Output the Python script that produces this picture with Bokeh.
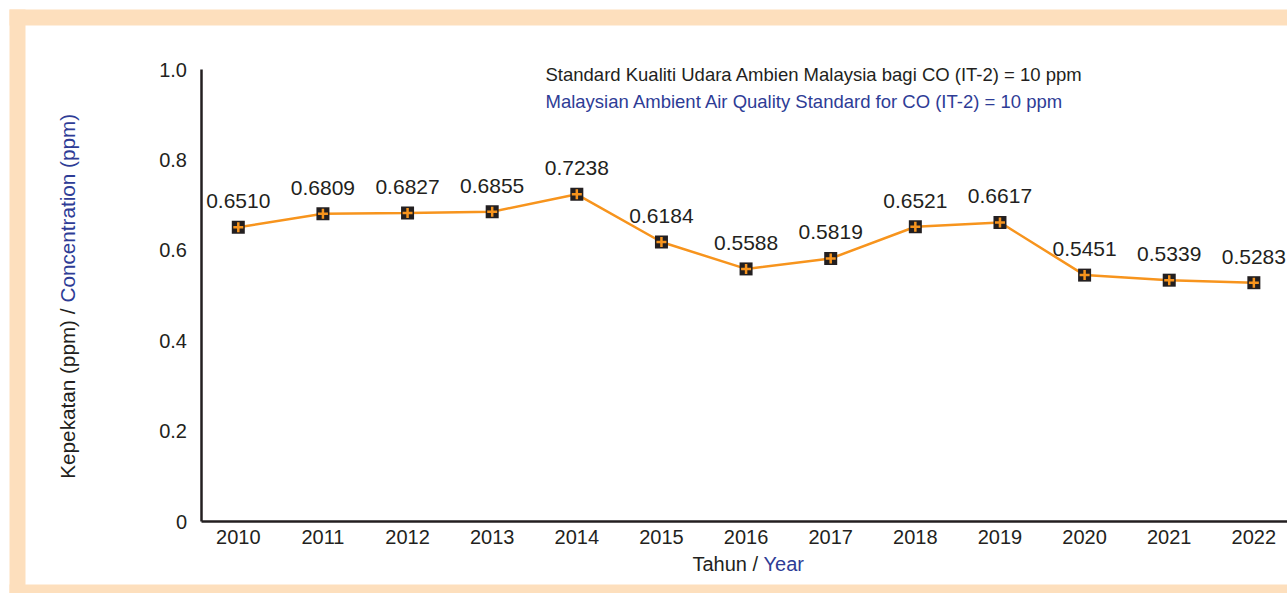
import math
from bokeh.plotting import figure
from bokeh.models import (ColumnDataSource, FixedTicker, Label, LabelSet, BoxAnnotation,
                          Range1d, LinearAxis)
from bokeh.core.properties import value
from bokeh.embed import file_html
from bokeh.resources import INLINE

# ---------------- data ----------------
years = [2010, 2011, 2012, 2013, 2014, 2015, 2016, 2017, 2018, 2019, 2020, 2021, 2022]
conc = [0.6510, 0.6809, 0.6827, 0.6855, 0.7238, 0.6184, 0.5588, 0.5819, 0.6521, 0.6617, 0.5451, 0.5339, 0.5283]
conc_labels = ["0.6510", "0.6809", "0.6827", "0.6855", "0.7238", "0.6184", "0.5588",
               "0.5819", "0.6521", "0.6617", "0.5451", "0.5339", "0.5283"]
y_ticks = [0, 0.2, 0.4, 0.6, 0.8, 1.0]
y_tick_labels = ["0", "0.2", "0.4", "0.6", "0.8", "1.0"]

title_ms = "Standard Kualiti Udara Ambien Malaysia bagi CO (IT-2) = 10 ppm"
title_en = "Malaysian Ambient Air Quality Standard for CO (IT-2) = 10 ppm"
xlabel_ms = "Tahun /"
xlabel_en = "Year"
ylabel_ms = "Kepekatan (ppm) /"
ylabel_en = "Concentration (ppm)"

# ---------------- style ----------------
FONT = "Liberation Sans"
DARK = "#231F20"
BLUE = "#2E3C96"
ORANGE = "#F7941D"
PEACH = "#FDDFBD"

W, H = 1287, 593
# pixel <-> data mapping (the frame fills the whole canvas)
PX_2010, PX_PER_YEAR = 237.8, 84.63
PY_ZERO, PY_PER_UNIT = 521.0, 452.0


def dx(px):
    return 2010 + (px - PX_2010) / PX_PER_YEAR


def dy(py):
    return (PY_ZERO - py) / PY_PER_UNIT


X0, X1 = dx(0), dx(W)
Y0, Y1 = dy(H), dy(0)

p = figure(width=W, height=H, x_range=Range1d(X0, X1), y_range=Range1d(Y0, Y1),
           output_backend="svg", toolbar_location=None,
           x_axis_location=None, y_axis_location=None,
           min_border=0, min_border_left=0, min_border_right=0,
           min_border_top=0, min_border_bottom=0,
           background_fill_color="white", border_fill_color="white",
           outline_line_color=None)
p.grid.visible = False

# peach frame (drawn first, under everything)
far = 5000
for box in (dict(left=dx(9), right=dx(25), bottom=dy(far), top=dy(9)),
            dict(left=dx(9), right=dx(far), bottom=dy(25), top=dy(9)),
            dict(left=dx(9), right=dx(far), bottom=dy(far), top=dy(584))):
    p.add_layout(BoxAnnotation(**box, fill_color=PEACH, fill_alpha=1.0, line_color=None,
                               level="underlay"))

# axes placed at fixed positions inside the frame
xaxis = LinearAxis(ticker=FixedTicker(ticks=years), fixed_location=0,
                   bounds=(dx(200.5), X1))
yaxis = LinearAxis(ticker=FixedTicker(ticks=y_ticks), fixed_location=dx(200.5),
                   bounds=(0, 1.0))
yaxis.major_label_overrides = {t: l for t, l in zip(y_ticks, y_tick_labels)}
for ax in (xaxis, yaxis):
    ax.axis_line_color = DARK
    ax.axis_line_width = 2.5
    ax.major_tick_line_color = None
    ax.minor_tick_line_color = None
    ax.major_tick_out = 0
    ax.major_tick_in = 0
    ax.minor_tick_out = 0
    ax.minor_tick_in = 0
    ax.major_label_text_font = FONT
    ax.major_label_text_font_size = "20px"
    ax.major_label_text_color = DARK
xaxis.major_label_standoff = 8
yaxis.major_label_standoff = 14
p.add_layout(xaxis, "below")
p.add_layout(yaxis, "left")

# series
src = ColumnDataSource(dict(x=years, y=conc, label=conc_labels))
p.line("x", "y", source=src, line_color=ORANGE, line_width=2.5)
p.scatter("x", "y", source=src, marker="square", size=13, fill_color=DARK, line_color=None)
p.scatter("x", "y", source=src, marker="cross", size=10, line_color=ORANGE, line_width=2.5)

p.add_layout(LabelSet(x="x", y="y", text="label", source=src, y_offset=26,
                      text_align="center", text_baseline="middle",
                      text_font=value(FONT), text_font_size=value("21px"), text_color=DARK))


def add_label(px, py, text, align, color, size, angle=0.0):
    p.add_layout(Label(x=dx(px), y=dy(py), text=text, text_align=align,
                       text_baseline="alphabetic", angle=angle, text_font=FONT,
                       text_font_size=size, text_color=color))


# header texts
add_label(545, 74, title_ms, "left", DARK, "18.5px")
add_label(545, 100.5, title_en, "left", BLUE, "18.5px")

# x axis title (two colours)
add_label(757.5, 563, xlabel_ms, "right", DARK, "20px")
add_label(763, 563, xlabel_en, "left", BLUE, "20px")

# y axis title (two colours, rotated)
add_label(67, 308, ylabel_ms, "right", DARK, "20.7px", math.pi / 2)
add_label(67, 302, ylabel_en, "left", BLUE, "20.7px", math.pi / 2)

open("out.html", "w").write(file_html(p, INLINE))
